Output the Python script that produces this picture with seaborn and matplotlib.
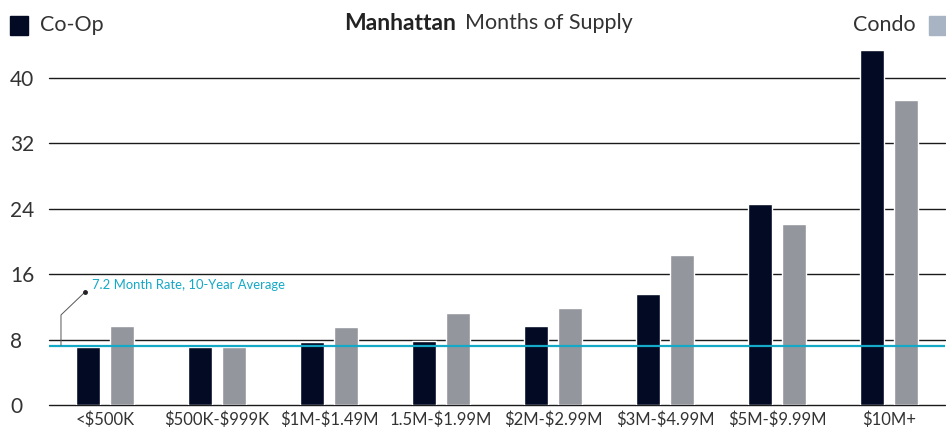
import matplotlib
matplotlib.use("Agg")
import matplotlib.pyplot as plt
import seaborn as sns
import pandas as pd
from matplotlib.patches import Rectangle

# price bands and months of supply
categories = ["<$500K", "$500K-$999K", "$1M-$1.49M", "1.5M-$1.99M",
              "$2M-$2.99M", "$3M-$4.99M", "$5M-$9.99M", "$10M+"]
coop = [7.1, 7.1, 7.7, 7.8, 9.7, 13.6, 24.6, 43.4]
condo = [9.7, 7.1, 9.5, 11.3, 11.9, 18.3, 22.1, 37.3]
avg_rate = 7.2
yticks = [0, 8, 16, 24, 32, 40]

df = pd.DataFrame({
    "band": categories * 2,
    "months": coop + condo,
    "type": ["Co-Op"] * len(coop) + ["Condo"] * len(condo),
})

sns.set_theme(style="white")
plt.rcParams["font.family"] = ["Lato", "DejaVu Sans"]
plt.rcParams["text.parse_math"] = False

NAVY = "#020a24"
GRAY = "#93969c"
CYAN = "#14a9c6"
TXT = "#333333"

fig = plt.figure(figsize=(9.46, 4.32), dpi=100)
ax = fig.add_axes([49 / 946, 27 / 432, 896 / 946, 365 / 432])

sns.barplot(data=df, x="band", y="months", hue="type", order=categories,
            palette=[NAVY, GRAY], width=0.607, gap=0.295, saturation=1,
            legend=False, ax=ax, zorder=2)

ax.set_xlim(-0.5, 7.5)
ax.set_ylim(0, 44.6)
ax.set_yticks(yticks)
ax.set_yticklabels([str(t) for t in yticks], fontsize=15, color=TXT, ha="left")
ax.tick_params(axis="y", length=0, pad=28)
ax.tick_params(axis="x", length=0, pad=5, labelsize=12, labelcolor=TXT)
ax.set_xlabel("")
ax.set_ylabel("")
for s in ax.spines.values():
    s.set_visible(False)
for t in yticks:
    ax.axhline(t, color="#1a1a1a", lw=1, zorder=1, clip_on=False)

# 10-year average line and callout
ax.axhline(avg_rate, color=CYAN, lw=1.6, zorder=3)
ax.plot([-0.393, -0.393, -0.179], [avg_rate + 0.1, 11.0, 13.8],
        color="#555555", lw=0.7, zorder=4)
ax.plot([-0.179], [13.8], "o", color="#222222", ms=2.5, zorder=4)
ax.text(-0.116, 14.7, "7.2 Month Rate, 10-Year Average", color=CYAN,
        fontsize=9.4, va="center", ha="left")

# header: legend swatches and title
fig.patches.append(Rectangle((10 / 946, 1 - 35 / 432), 18 / 946, 19 / 432,
                             transform=fig.transFigure, color=NAVY))
fig.text(40 / 946, 1 - 25 / 432, "Co-Op", fontsize=15.5, color=TXT, va="center")
fig.patches.append(Rectangle((929 / 946, 1 - 35 / 432), 17 / 946, 19 / 432,
                             transform=fig.transFigure, color="#a8b4c4"))
fig.text(916 / 946, 1 - 25 / 432, "Condo", fontsize=15.5, color=TXT,
         va="center", ha="right")
fig.text(456 / 946, 1 - 23 / 432, "Manhattan", fontsize=16.5,
         fontweight="bold", color="#222222", va="center", ha="right")
fig.text(465 / 946, 1 - 23 / 432, "Months of Supply", fontsize=15.5,
         color=TXT, va="center", ha="left")

fig.savefig("out.png", dpi=100)
